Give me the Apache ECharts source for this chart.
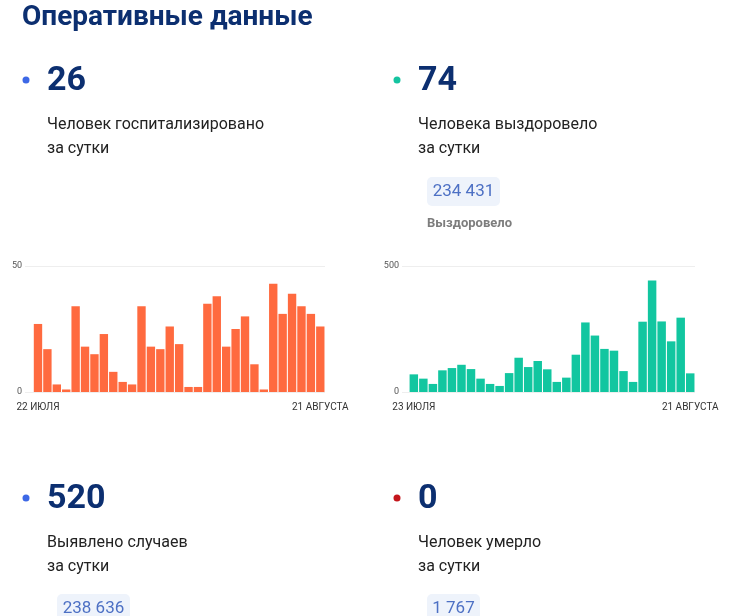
<!DOCTYPE html>
<html><head><meta charset="utf-8">
<script src="https://cdn.jsdelivr.net/npm/echarts@6/dist/echarts.min.js"></script>
<style>html,body{margin:0;padding:0;background:#fff}#c{width:742px;height:616px}</style>
</head><body><div id="c"></div>
<script>
// Data
const hospLabels = ['22 ИЮЛЯ', '21 АВГУСТА'];
const hospitalized = [27,17,3,1,34,18,15,23,8,4,3,34,18,17,26,19,2,2,35,38,18,25,30,11,1,43,31,39,34,31,26];
const recLabels = ['23 ИЮЛЯ', '21 АВГУСТА'];
const recovered = [70,53,32,86,95,108,91,53,32,24,75,136,99,123,90,40,57,148,276,224,171,164,83,40,279,442,280,201,295,74];
const hospTicks = [0, 50];
const recTicks = [0, 500];
const headline = {hosp: '26', rec: '74', cases: '520', deaths: '0'};
const totals = {rec: '234 431', cases: '238 636', deaths: '1 767'};

const navy = '#0c2f70';
const font = 'Roboto, "Noto Sans", sans-serif';
const chart = echarts.init(document.getElementById('c'), null, {renderer: 'canvas'});

function xAxisFor(gridIndex, n, labels, min, max) {
  return {
    type: 'value', gridIndex, min, max,
    axisLine: {show: false}, axisTick: {show: false}, splitLine: {show: false},
    axisLabel: {
      customValues: [0, n - 1], margin: 10, fontSize: 10, color: '#333', fontFamily: font,
      formatter: v => (v === 0 ? labels[0] : labels[1])
    }
  };
}
function yAxisFor(gridIndex, ticks) {
  return {
    type: 'value', gridIndex, min: ticks[0], max: ticks[1], interval: ticks[1] - ticks[0],
    axisLine: {show: false}, axisTick: {show: false},
    splitLine: {lineStyle: {color: '#eeeeee', width: 1}},
    axisLabel: {margin: 3, fontSize: 9, color: '#555', fontFamily: font}
  };
}

function stat(x, y, dotColor, num, line1, line2) {
  return [
    {type: 'circle', shape: {cx: x - 21, cy: y - 12, r: 3.5}, style: {fill: dotColor}},
    {type: 'text', x: x, y: y + 6, style: {text: num, fill: navy, font: 'bold 34px ' + font, textVerticalAlign: 'bottom'}},
    {type: 'text', x: x, y: y + 33, style: {text: line1, fill: '#222', font: '16px ' + font, textVerticalAlign: 'middle'}},
    {type: 'text', x: x, y: y + 57, style: {text: line2, fill: '#222', font: '16px ' + font, textVerticalAlign: 'middle'}}
  ];
}
function totalBox(x, y, w, txt) {
  return [
    {type: 'rect', shape: {x: x, y: y, width: w, height: 29, r: 5}, style: {fill: '#eef3fb'}},
    {type: 'text', x: x + w / 2, y: y + 14.5, style: {text: txt, fill: '#4d70c4', font: '17px ' + font, textAlign: 'center', textVerticalAlign: 'middle'}}
  ];
}

const graphics = [].concat(
  [{type: 'text', x: 22, y: 32, style: {text: 'Оперативные данные', fill: navy, font: 'bold 28px ' + font, textVerticalAlign: 'bottom'}}],
  stat(47, 92, '#3d68e6', headline.hosp, 'Человек госпитализировано', 'за сутки'),
  stat(418, 92, '#15c4a0', headline.rec, 'Человека выздоровело', 'за сутки'),
  totalBox(427, 177, 73, totals.rec),
  [{type: 'text', x: 427, y: 224, style: {text: 'Выздоровело', fill: '#7d7d7d', font: 'bold 13px ' + font, textVerticalAlign: 'middle'}}],
  stat(47, 510, '#3d68e6', headline.cases, 'Выявлено случаев', 'за сутки'),
  stat(418, 510, '#c4161c', headline.deaths, 'Человек умерло', 'за сутки'),
  totalBox(57, 594, 73, totals.cases),
  totalBox(427, 594, 53, totals.deaths)
);

chart.setOption({
  animation: false,
  grid: [
    {left: 25, top: 266, width: 300, height: 126},
    {left: 402, top: 266, width: 293, height: 126}
  ],
  xAxis: [
    xAxisFor(0, hospitalized.length, hospLabels, -1.38, hospitalized.length - 0.5),
    xAxisFor(1, recovered.length, recLabels, -1.24, recovered.length - 0.5)
  ],
  yAxis: [yAxisFor(0, hospTicks), yAxisFor(1, recTicks)],
  series: [
    {type: 'bar', xAxisIndex: 0, yAxisIndex: 0, barWidth: '89%', itemStyle: {color: '#ff6a3f'},
     data: hospitalized.map((v, i) => [i, v])},
    {type: 'bar', xAxisIndex: 1, yAxisIndex: 1, barWidth: '89%', itemStyle: {color: '#12c6a0'},
     data: recovered.map((v, i) => [i, v])}
  ],
  graphic: graphics
});
</script></body></html>
